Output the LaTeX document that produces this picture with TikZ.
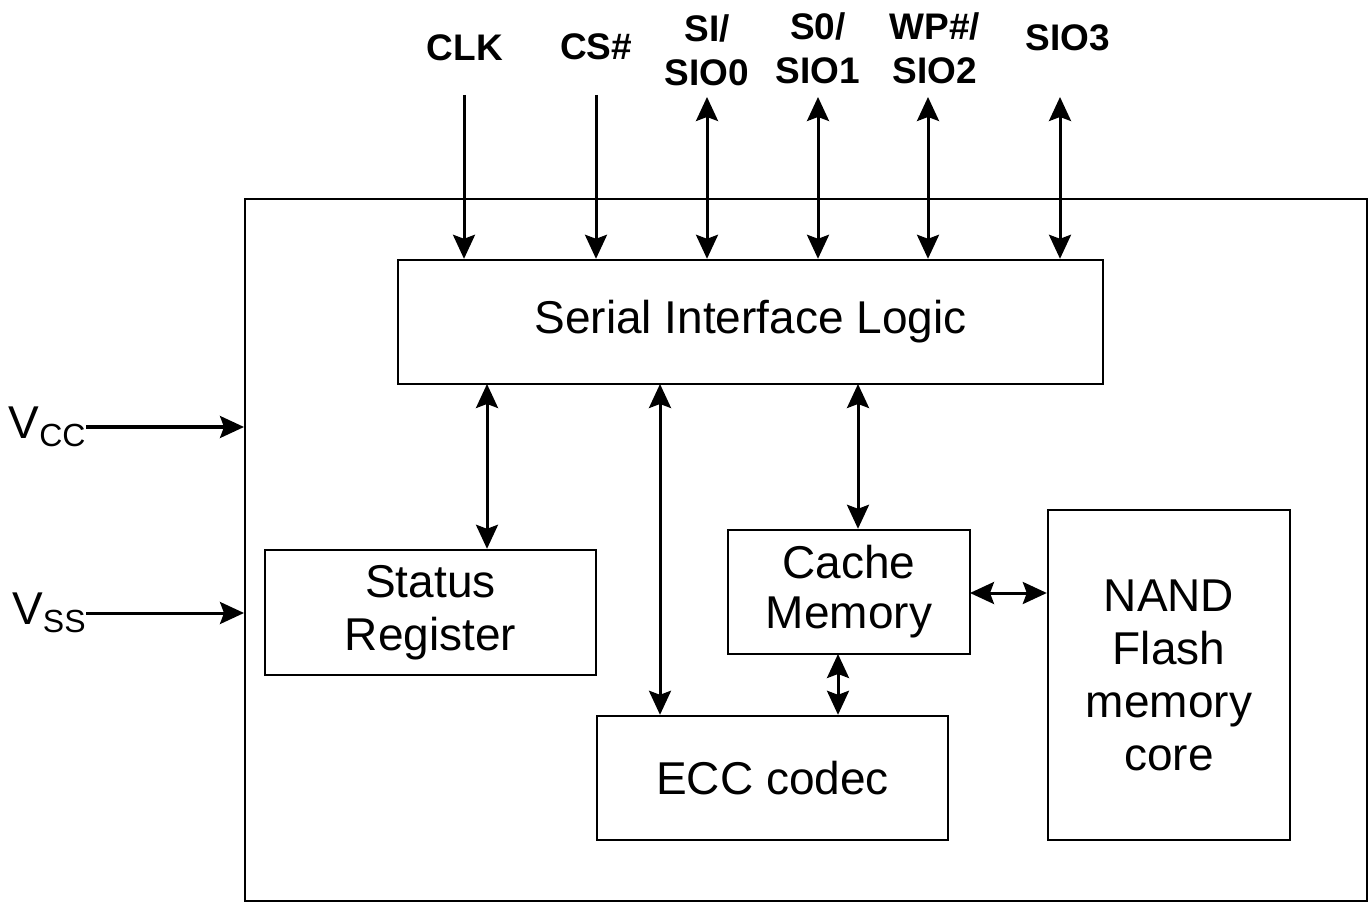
\documentclass[tikz,border=0pt]{standalone}
\usepackage{fontspec}
\setmainfont{Liberation Sans}
\usetikzlibrary{arrows.meta}
\begin{document}
\begin{tikzpicture}[x=0.5pt,y=-0.5pt,
  blk/.style={draw,line width=1.2pt,inner sep=0pt,font=\fontsize{23}{26}\selectfont,align=center},
  pin/.style={font=\bfseries\fontsize{18.5}{22}\selectfont,align=center},
  con/.style={line width=1.5pt},
  tip/.style={-{Stealth[length=12pt,width=11pt,inset=2pt]}},
  dtip/.style={{Stealth[length=12pt,width=11pt,inset=2pt]}-{Stealth[length=12pt,width=11pt,inset=2pt]}}]
\useasboundingbox (0,0) rectangle (1370,903);
% outer chip
\node[draw,line width=1.2pt,minimum width=561pt,minimum height=351pt,anchor=north west] (chip) at (244,198) {};
% blocks
\node[blk,minimum width=352.5pt,minimum height=62pt] (sil) at (750.5,322) {Serial Interface Logic};
\node[blk,minimum width=165.5pt,minimum height=62.5pt] (sr) at (430.5,612.5) {Status\\[0.5pt]Register};
\node[blk,minimum width=121pt,minimum height=62pt] (cm) at (849,592) {Cache\\[-1pt]Memory};
\node[blk,minimum width=121pt,minimum height=165pt] (nand) at (1169,675) {NAND\\[0.5pt]Flash\\[0.5pt]memory\\[0.5pt]core};
\node[blk,minimum width=175.5pt,minimum height=62pt] (ecc) at (772.5,778) {ECC codec};
% pin labels
\node[pin] (clk) at (465,48) {CLK};
\node[pin] (cs) at (596,47) {CS\#};
\node[pin] (sio0) at (707,50) {SI/\\SIO0};
\node[pin] (sio1) at (818,48) {S0/\\SIO1};
\node[pin] (sio2) at (935,48) {WP\#/\\SIO2};
\node[pin] (sio3) at (1068,38) {SIO3};
% pin line ends
\coordinate (clkt) at (464,95);
\coordinate (cst) at (596,95);
\coordinate (s0t) at (707,97);
\coordinate (s1t) at (818,97);
\coordinate (s2t) at (928,97);
\coordinate (s3t) at (1060,97);
\draw[con,tip] (clkt) -- (clkt |- sil.north);
\draw[con,tip] (cst) -- (cst |- sil.north);
\draw[con,dtip] (s0t) -- (s0t |- sil.north);
\draw[con,dtip] (s1t) -- (s1t |- sil.north);
\draw[con,dtip] (s2t) -- (s2t |- sil.north);
\draw[con,dtip] (s3t) -- (s3t |- sil.north);
% internal connections
\coordinate (a1) at (487,384);
\coordinate (a2) at (660,384);
\coordinate (a3) at (858,384);
\draw[con,dtip] (a1) -- (a1 |- sr.north);
\draw[con,dtip] (a2) -- (a2 |- ecc.north);
\draw[con,dtip] (a3) -- (a3 |- cm.north);
\coordinate (b1) at (970,593);
\draw[con,dtip] (b1) -- (b1 -| nand.west);
\coordinate (c1) at (838,654);
\draw[con,dtip] (c1) -- (c1 |- ecc.north);
% power
\node[font=\fontsize{23}{26}\selectfont,inner sep=0pt,anchor=east] (vcc) at (86,427) {V\raisebox{-0.35ex}{\fontsize{16}{18}\selectfont CC}};
\node[font=\fontsize{23}{26}\selectfont,inner sep=0pt,anchor=east] (vss) at (86,613) {V\raisebox{-0.35ex}{\fontsize{16}{18}\selectfont SS}};
\draw[con,tip] (vcc.east |- 0,427) -- (chip.west |- 0,427);
\draw[con,tip] (vss.east |- 0,613) -- (chip.west |- 0,613);
\end{tikzpicture}
\end{document}
